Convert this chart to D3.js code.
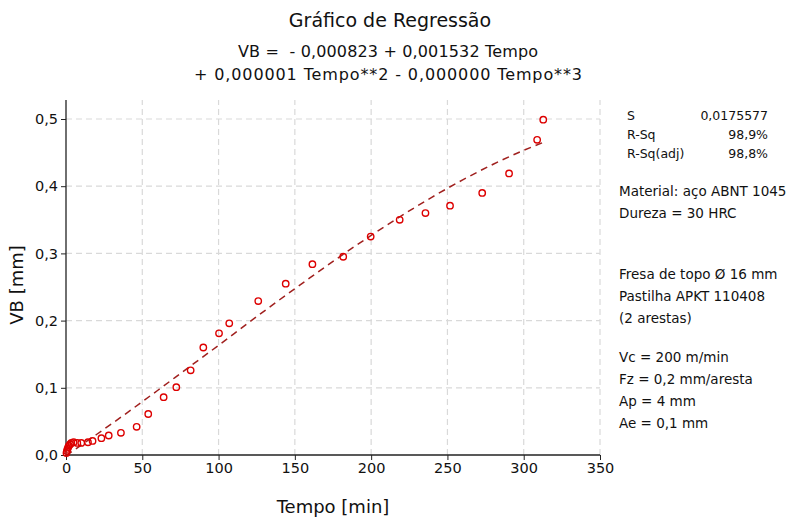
<!DOCTYPE html>
<html>
<head>
<meta charset="utf-8">
<script src="https://cdn.jsdelivr.net/npm/d3@7"></script>
<style>
  html, body { margin: 0; padding: 0; background: #fff; }
  svg text { font-family: "DejaVu Sans", Verdana, sans-serif; fill: #111; white-space: pre; }
</style>
</head>
<body>
<svg id="chart" width="787" height="517"></svg>
<script>
// Observed data points
const tempo = [0.3, 0.6, 1.0, 1.5, 2.0, 2.7, 3.5, 5.0, 7.4, 10.0, 14.4, 17.4, 23.2, 28.0, 36.0, 46.3, 53.9, 64.0, 72.3, 81.7, 90.0, 100.3, 107.0, 126.0, 144.0, 161.5, 181.7, 199.7, 218.7, 235.6, 251.7, 272.8, 290.4, 308.8, 312.8];
const vb    = [0.003, 0.006, 0.009, 0.012, 0.014, 0.016, 0.018, 0.019, 0.018, 0.018, 0.019, 0.021, 0.025, 0.029, 0.033, 0.042, 0.061, 0.086, 0.101, 0.126, 0.160, 0.181, 0.196, 0.229, 0.255, 0.284, 0.295, 0.325, 0.350, 0.360, 0.371, 0.390, 0.419, 0.469, 0.499];
// Fitted curve
const fitTempo = [0, 20, 40, 60, 80, 100, 120, 140, 160, 180, 200, 220, 240, 260, 280, 300, 313];
const fitVB    = [-0.0008, 0.0305, 0.0628, 0.0960, 0.1297, 0.1632, 0.1975, 0.2310, 0.2639, 0.2960, 0.3268, 0.3562, 0.3838, 0.4094, 0.4327, 0.4534, 0.4653];
// Ticks
const xTicks = [0, 50, 100, 150, 200, 250, 300, 350];
const yTicks = [0, 0.1, 0.2, 0.3, 0.4, 0.5];
// Texts
const titleText = "Gráfico de Regressão";
const eqLines = ["VB =  - 0,000823 + 0,001532 Tempo", "+ 0,000001 Tempo**2 - 0,000000 Tempo**3"];
const statLabels = ["S", "R-Sq", "R-Sq(adj)"];
const statValues = ["0,0175577", "98,9%", "98,8%"];
const infoBlocks = [
  ["Material: aço ABNT 1045", "Dureza = 30 HRC"],
  ["Fresa de topo Ø 16 mm", "Pastilha APKT 110408", "(2 arestas)"],
  ["Vc = 200 m/min", "Fz = 0,2 mm/aresta", "Ap = 4 mm", "Ae = 0,1 mm"]
];

const svg = d3.select("#chart");
const x = d3.scaleLinear().domain([0, 350]).range([66, 600]);
const y = d3.scaleLinear().domain([0, 0.5]).range([455, 119]);
const yTop = 100;
const fmtY = v => d3.format(".1f")(v).replace(".", ",");

// grid
const grid = svg.append("g").attr("stroke", "#d9d9d9").attr("stroke-width", 1.2).attr("stroke-dasharray", "6,4");
grid.selectAll("line.v").data(xTicks.filter(d => d > 0)).join("line")
  .attr("x1", d => x(d)).attr("x2", d => x(d)).attr("y1", y(0)).attr("y2", yTop);
grid.selectAll("line.h").data(yTicks.filter(d => d > 0)).join("line")
  .attr("x1", x(0)).attr("x2", x(350)).attr("y1", d => y(d)).attr("y2", d => y(d));

// axes
const xAxis = svg.append("g").attr("transform", `translate(0,${y(0)})`)
  .call(d3.axisBottom(x).tickValues(xTicks).tickSize(5).tickPadding(3).tickSizeOuter(0));
const yAxis = svg.append("g").attr("transform", `translate(${x(0)},0)`)
  .call(d3.axisLeft(y).tickValues(yTicks).tickSize(5).tickPadding(3).tickFormat(fmtY).tickSizeOuter(0));
[xAxis, yAxis].forEach(a => {
  a.select(".domain").remove();
  a.selectAll("text").style("font-family", '"DejaVu Sans", sans-serif').style("font-size", "14.5px").attr("fill", "#111");
  a.selectAll(".tick line").attr("stroke", "#222");
});
svg.append("line").attr("x1", x(0)).attr("x2", x(350)).attr("y1", y(0)).attr("y2", y(0)).attr("stroke", "#222").attr("stroke-width", 1.3);
svg.append("line").attr("x1", x(0)).attr("x2", x(0)).attr("y1", y(0)).attr("y2", yTop).attr("stroke", "#222").attr("stroke-width", 1.3);

// fit line
const fitData = fitTempo.map((t, i) => [t, fitVB[i]]);
svg.append("path").datum(fitData)
  .attr("d", d3.line().x(d => x(d[0])).y(d => y(d[1])).curve(d3.curveMonotoneX))
  .attr("fill", "none").attr("stroke", "#a0201e").attr("stroke-width", 1.5).attr("stroke-dasharray", "7,5");

// points
svg.append("g").selectAll("circle").data(tempo.map((t, i) => [t, vb[i]])).join("circle")
  .attr("cx", d => x(d[0])).attr("cy", d => y(d[1])).attr("r", 3.2)
  .attr("fill", "none").attr("stroke", "#dd0000").attr("stroke-width", 1.4);

// titles
svg.append("text").attr("x", 390).attr("y", 27).attr("text-anchor", "middle").style("font-size", "19px").text(titleText);
const eqWidths = [300, 388];
svg.selectAll("text.eq").data(eqLines).join("text").attr("class", "eq")
  .attr("x", 388).attr("y", (d, i) => 57 + i * 23).attr("text-anchor", "middle").style("font-size", "16px")
  .attr("textLength", (d, i) => eqWidths[i]).attr("lengthAdjust", "spacing").text(d => d);

// axis titles
svg.append("text").attr("x", 333).attr("y", 513).attr("text-anchor", "middle").style("font-size", "18px").text("Tempo [min]");
svg.append("text").attr("transform", "translate(23,285) rotate(-90)").attr("text-anchor", "middle").style("font-size", "18px").text("VB [mm]");

// stats panel
const sp = svg.append("g");
sp.selectAll("text.sl").data(statLabels).join("text").attr("class", "sl")
  .attr("x", 627).attr("y", (d, i) => 120 + i * 19).style("font-size", "12.5px").text(d => d);
sp.selectAll("text.sv").data(statValues).join("text").attr("class", "sv")
  .attr("x", 768).attr("y", (d, i) => 120 + i * 19).attr("text-anchor", "end").style("font-size", "12.5px").text(d => d);

// info blocks
const blockStarts = [196, 279, 362];
infoBlocks.forEach((lines, b) => {
  svg.selectAll(`text.ib${b}`).data(lines).join("text").attr("class", `ib${b}`)
    .attr("x", 619).attr("y", (d, i) => blockStarts[b] + i * 22).style("font-size", "13.5px").text(d => d);
});
</script>
</body>
</html>
